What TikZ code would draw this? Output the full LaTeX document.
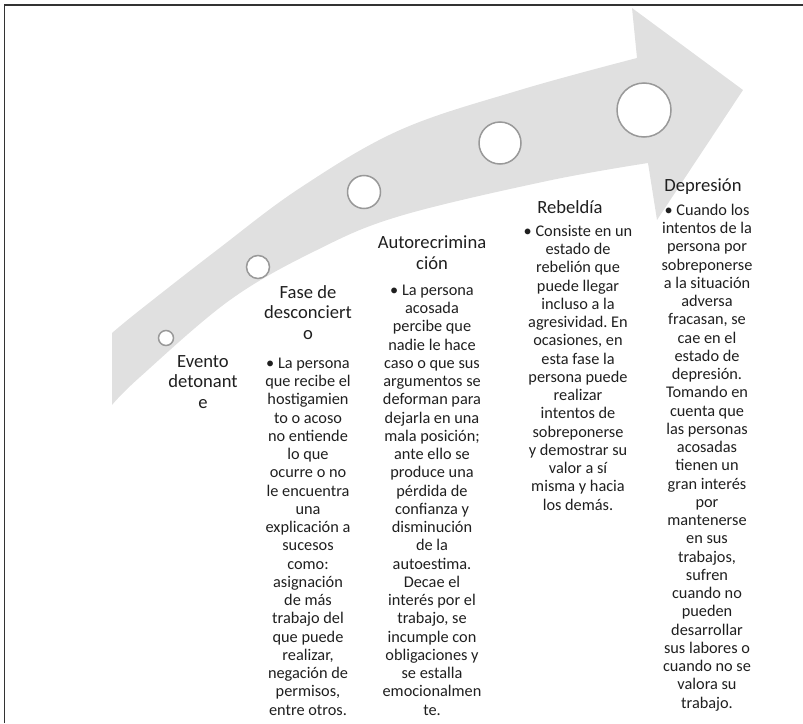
\documentclass[tikz,border=0pt]{standalone}
\usepackage{fontspec}
\setmainfont{Carlito}
\frenchspacing
\begin{document}
\begin{tikzpicture}[x=1pt,y=-1pt,
  arrowfill/.style={fill=black!12, draw=none},
  stage/.style={circle, draw=black!40, fill=white, line width=1.5pt, inner sep=0pt},
  title/.style={anchor=base, align=center, inner sep=0pt, font=\fontsize{18.6}{20.5}\selectfont, text=black!88},
  body/.style={anchor=base, align=center, inner sep=0pt, font=\fontsize{16.3}{18.25}\selectfont, text=black!88},
  frame/.style={draw=black!80, line width=1.5pt}]
\useasboundingbox (0,0) rectangle (803,723);
% frame (top and left)
\coordinate (fbl) at (4.5,723);
\coordinate (ftl) at (4.5,5);
\coordinate (ftr) at (803,5);
\draw[frame] (fbl) -- (ftl) -- (ftr);
% curved arrow
\fill[arrowfill] plot[smooth, tension=0.6] coordinates {(112,333) (140,310) (217,250) (300,188) (400,130) (520,90) (637,58)}
  -- (632,8) -- (743,90) -- (657,220) -- (648,163)
  -- plot[smooth, tension=0.6] coordinates {(648,163) (547,181) (400,216) (317,250) (230,300) (140,377) (112,405)} -- cycle;
% stage circles
\node[stage, minimum size=15pt] (c1) at (166,338) {};
\node[stage, minimum size=23pt] (c2) at (258,267) {};
\node[stage, minimum size=33pt] (c3) at (364,192) {};
\node[stage, minimum size=42pt] (c4) at (500,143) {};
\node[stage, minimum size=54pt] (c5) at (644,110) {};
% titles (anchored at the baseline of their last line)
\node[title] (t1) at (203,408) {Evento\\detonant\\e};
\node[title] (t2) at (308,339) {Fase de\\desconciert\\o};
\node[title] (t3) at (432,269) {Autorecrimina\\ción};
\node[title] (t4) at (570,213) {Rebeldía};
\node[title] (t5) at (703,191) {Depresión};
% bodies (anchored at the baseline of their last line)
\node[body] (b2) at (308,715) {• La persona\\que recibe el\\hostigamien\\to o acoso\\no entiende\\lo que\\ocurre o no\\le encuentra\\una\\explicación a\\sucesos\\como:\\asignación\\de más\\trabajo del\\que puede\\realizar,\\negación de\\permisos,\\entre otros.};
\node[body] (b3) at (432,715) {• La persona\\acosada\\percibe que\\nadie le hace\\caso o que sus\\argumentos se\\deforman para\\dejarla en una\\mala posición;\\ante ello se\\produce una\\pérdida de\\confianza y\\disminución\\de la\\autoestima.\\Decae el\\interés por el\\trabajo, se\\incumple con\\obligaciones y\\se estalla\\emocionalmen\\te.};
\node[body] (b4) at (578,510) {• Consiste en un\\estado de\\rebelión que\\puede llegar\\incluso a la\\agresividad. En\\ocasiones, en\\esta fase la\\persona puede\\realizar\\intentos de\\sobreponerse\\y demostrar su\\valor a sí\\misma y hacia\\los demás.};
\node[body] (b5) at (707,708) {• Cuando los\\intentos de la\\persona por\\sobreponerse\\a la situación\\adversa\\fracasan, se\\cae en el\\estado de\\depresión.\\Tomando en\\cuenta que\\las personas\\acosadas\\tienen un\\gran interés\\por\\mantenerse\\en sus\\trabajos,\\sufren\\cuando no\\pueden\\desarrollar\\sus labores o\\cuando no se\\valora su\\trabajo.};
\end{tikzpicture}
\end{document}
